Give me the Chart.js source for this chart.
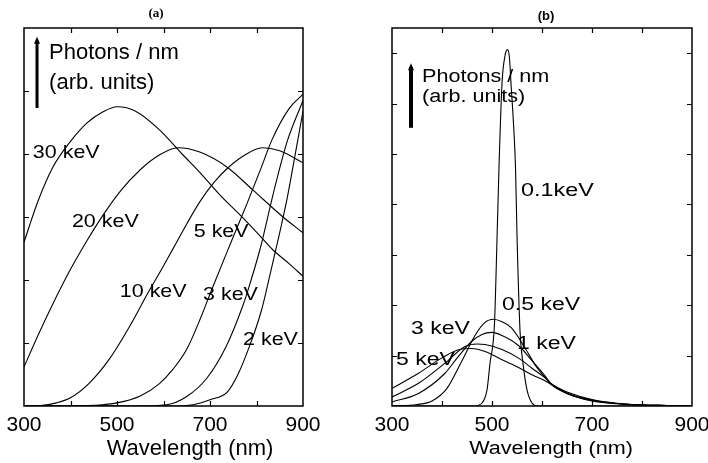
<!DOCTYPE html>
<html>
<head>
<meta charset="utf-8">
<script src="https://cdn.jsdelivr.net/npm/chart.js@4"></script>
<style>
html, body { margin: 0; padding: 0; background: #fff; }
#wrap { position: relative; width: 708px; height: 463px; }
canvas { position: absolute; top: 0; }
#chartA { left: 0; }
#chartB { left: 354px; }
</style>
</head>
<body>
<div id="wrap">
  <canvas id="chartA" width="354" height="463"></canvas>
  <canvas id="chartB" width="354" height="463"></canvas>
</div>
<script>
// ---- panel (a): wavelength (nm) and photons / nm ----
const wlA30 = [300, 330, 362, 400, 435, 470, 500, 540, 592, 640, 678, 720, 765, 800, 835, 870, 900];
const phA30 = [2.6, 3.25, 3.79, 4.2, 4.49, 4.67, 4.75, 4.68, 4.38, 4.0, 3.71, 3.36, 3.03, 2.76, 2.48, 2.26, 2.06];

const wlA20 = [300, 330, 362, 400, 435, 470, 506, 550, 590, 631, 678, 737, 792, 857, 900];
const phA20 = [0.62, 1.12, 1.62, 2.17, 2.62, 3.03, 3.4, 3.75, 3.98, 4.1, 4.03, 3.79, 3.43, 3.0, 2.75];

const wlA10 = [300, 340, 370, 400, 440, 485, 530, 567, 599, 620, 650, 678, 710, 737, 770, 812, 850, 900];
const phA10 = [0, 0.01, 0.05, 0.13, 0.36, 0.76, 1.3, 1.8, 2.21, 2.49, 2.89, 3.24, 3.56, 3.77, 3.96, 4.1, 4.05, 3.86];

const wlA5 = [300, 400, 450, 500, 550, 592, 620, 650, 680, 706, 743, 780, 810, 833, 870, 900];
const phA5 = [0, 0, 0.01, 0.05, 0.16, 0.36, 0.58, 0.9, 1.4, 1.89, 2.56, 3.22, 3.78, 4.22, 4.72, 4.95];

const wlA3 = [300, 540, 607, 650, 693, 735, 771, 780, 808, 837, 866, 900];
const phA3 = [0, 0, 0.02, 0.15, 0.44, 0.95, 1.6, 1.8, 2.5, 3.4, 4.2, 4.85];

const wlA2 = [300, 620, 663, 700, 737, 760, 786, 810, 823, 844, 866, 887, 900];
const phA2 = [0, 0, 0.02, 0.1, 0.22, 0.5, 0.97, 1.5, 1.89, 2.56, 3.3, 4.15, 4.68];

// ---- panel (b) ----
const wlB01 = [300, 465, 480, 490, 496, 505, 510, 514, 520, 526, 531, 535, 538, 543, 547, 550, 556, 562, 570, 580, 592, 900];
const phB01 = [0, 0, 0.06, 0.32, 0.85, 1.64, 3.3, 4.74, 6.4, 6.95, 7.07, 6.9, 6.4, 5.6, 4.74, 3.4, 1.5, 0.85, 0.32, 0.06, 0, 0];

const wlB05 = [300, 350, 380, 410, 440, 466, 485, 503, 520, 539, 566, 590, 606, 618, 650, 700, 750, 800, 850, 900];
const phB05 = [0, 0.03, 0.1, 0.35, 0.9, 1.4, 1.65, 1.72, 1.67, 1.55, 1.15, 0.76, 0.57, 0.43, 0.25, 0.11, 0.05, 0.02, 0.01, 0];

const wlB1 = [300, 353, 406, 430, 459, 480, 499, 520, 553, 580, 606, 618, 650, 700, 750, 800, 850, 900];
const phB1 = [0.08, 0.25, 0.65, 0.95, 1.28, 1.42, 1.46, 1.4, 1.2, 0.9, 0.6, 0.44, 0.25, 0.1, 0.045, 0.02, 0.01, 0];

const wlB3 = [300, 353, 406, 446, 470, 486, 520, 553, 580, 606, 618, 650, 700, 750, 800, 850, 900];
const phB3 = [0.18, 0.45, 0.85, 1.18, 1.23, 1.22, 1.12, 0.95, 0.75, 0.56, 0.45, 0.26, 0.12, 0.05, 0.02, 0.01, 0];

const wlB5 = [300, 353, 399, 439, 460, 486, 520, 552, 580, 606, 618, 650, 700, 750, 800, 850, 900];
const phB5 = [0.35, 0.65, 0.95, 1.13, 1.14, 1.08, 0.92, 0.77, 0.62, 0.5, 0.43, 0.28, 0.13, 0.055, 0.02, 0.01, 0];

// ticks
const xTicks = [400, 500, 600, 700, 800];
const xLabels = [300, 500, 700, 900];
const yTicksA = [1, 2, 3, 4, 5];
const yTicksB = [1, 2, 3, 4, 5, 6, 7];

const SANS = '"Liberation Sans", Arial, sans-serif';

function pts(xs, ys) {
    return xs.map((x, i) => ({ x: x, y: ys[i] }));
}

function curve(xs, ys) {
    return {
        data: pts(xs, ys),
        borderColor: '#000',
        borderWidth: 1.1,
        pointRadius: 0,
        fill: false,
        cubicInterpolationMode: 'monotone'
    };
}

// frame, inward ticks, arrow and text labels
function makeDeco(cfg) {
    return {
        id: 'deco',
        afterDraw(chart) {
            const { ctx, chartArea: ca, scales: { x, y } } = chart;
            ctx.save();
            ctx.strokeStyle = '#000';
            ctx.lineWidth = 1.2;
            ctx.beginPath();
            xTicks.forEach(v => {
                const px = Math.round(x.getPixelForValue(v)) + 0.5;
                ctx.moveTo(px, ca.bottom); ctx.lineTo(px, ca.bottom - cfg.tick);
                ctx.moveTo(px, ca.top); ctx.lineTo(px, ca.top + cfg.tick);
            });
            cfg.yTicks.forEach(v => {
                const py = Math.round(y.getPixelForValue(v)) + 0.5;
                ctx.moveTo(ca.left, py); ctx.lineTo(ca.left + cfg.tick, py);
                ctx.moveTo(ca.right, py); ctx.lineTo(ca.right - cfg.tick, py);
            });
            ctx.stroke();
            ctx.lineWidth = 1.5;
            ctx.strokeRect(ca.left, ca.top, ca.right - ca.left, ca.bottom - ca.top);

            // the "Photons / nm" arrow
            const ax = x.getPixelForValue(cfg.arrow.x);
            const ay0 = y.getPixelForValue(cfg.arrow.y0);
            const ay1 = y.getPixelForValue(cfg.arrow.y1);
            ctx.lineWidth = cfg.arrow.w;
            ctx.beginPath();
            ctx.moveTo(ax, ay0); ctx.lineTo(ax, ay1 + 4);
            ctx.stroke();
            ctx.fillStyle = '#000';
            ctx.beginPath();
            ctx.moveTo(ax - 3, ay1 + 7); ctx.lineTo(ax, ay1); ctx.lineTo(ax + 3, ay1 + 7);
            ctx.closePath();
            ctx.fill();

            cfg.texts.forEach(t => {
                const px = x.getPixelForValue(t.x);
                const py = y.getPixelForValue(t.y);
                ctx.save();
                ctx.translate(px, py);
                ctx.scale(t.sx || 1, 1);
                ctx.font = t.font;
                ctx.textAlign = t.align || 'left';
                ctx.textBaseline = 'middle';
                ctx.fillStyle = '#000';
                ctx.fillText(t.text, 0, 0);
                ctx.restore();
            });
            ctx.restore();
        }
    };
}

function makeChart(id, datasets, yMax, pad, tickFont, deco) {
    return new Chart(document.getElementById(id), {
        type: 'line',
        data: { datasets: datasets },
        options: {
            responsive: false,
            animation: false,
            layout: { padding: pad },
            plugins: { legend: { display: false }, tooltip: { enabled: false } },
            scales: {
                x: {
                    type: 'linear',
                    min: 300,
                    max: 900,
                    grid: { display: false, drawTicks: false },
                    border: { display: false },
                    ticks: {
                        stepSize: 100,
                        autoSkip: false,
                        maxRotation: 0,
                        padding: 7,
                        color: '#000',
                        font: { family: SANS, size: tickFont },
                        callback: v => xLabels.includes(v) ? String(v) : ''
                    },
                    afterFit: s => { s.height = 57; s.paddingLeft = 0; s.paddingRight = 0; }
                },
                y: { display: false, min: 0, max: yMax }
            }
        },
        plugins: [deco]
    });
}

const labA = '19px ' + SANS;
makeChart('chartA',
    [curve(wlA30, phA30), curve(wlA20, phA20), curve(wlA10, phA10),
     curve(wlA5, phA5), curve(wlA3, phA3), curve(wlA2, phA2)],
    6, { left: 24, right: 51, top: 28, bottom: 0 }, 21,
    makeDeco({
        tick: 5,
        yTicks: yTicksA,
        arrow: { x: 328, y0: 4.73, y1: 5.86, w: 3 },
        texts: [
            { text: '(a)', x: 584, y: 6.22, font: 'bold 13px "Liberation Serif", serif', align: 'center' },
            { text: 'Photons / nm', x: 354, y: 5.6, font: '22px ' + SANS },
            { text: '(arb. units)', x: 354, y: 5.13, font: '22px ' + SANS },
            { text: '30 keV', x: 319, y: 4.02, font: labA, sx: 1.13 },
            { text: '20 keV', x: 403, y: 2.92, font: labA, sx: 1.13 },
            { text: '10 keV', x: 506, y: 1.81, font: labA, sx: 1.13 },
            { text: '5 keV', x: 665, y: 2.76, font: labA, sx: 1.13 },
            { text: '3 keV', x: 685, y: 1.76, font: labA, sx: 1.13 },
            { text: '2 keV', x: 771, y: 1.05, font: labA, sx: 1.13 },
            { text: 'Wavelength (nm)', x: 657, y: -0.68, font: '22px ' + SANS, align: 'center' }
        ]
    }));

const labB = '18px ' + SANS;
makeChart('chartB',
    [curve(wlB01, phB01), curve(wlB05, phB05), curve(wlB1, phB1),
     curve(wlB3, phB3), curve(wlB5, phB5)],
    7.5, { left: 38, right: 16, top: 28, bottom: 0 }, 21,
    makeDeco({
        tick: 5,
        yTicks: yTicksB,
        arrow: { x: 338, y0: 5.52, y1: 6.8, w: 4 },
        texts: [
            { text: '(b)', x: 608, y: 7.72, font: 'bold 13px ' + SANS, align: 'center' },
            { text: 'Photons / nm', x: 360, y: 6.53, font: labB, sx: 1.2 },
            { text: '(arb. units)', x: 360, y: 6.13, font: labB, sx: 1.2 },
            { text: '0.1keV', x: 558, y: 4.27, font: labB, sx: 1.3 },
            { text: '0.5 keV', x: 520, y: 2.0, font: labB, sx: 1.28 },
            { text: '3 keV', x: 338, y: 1.53, font: labB, sx: 1.28 },
            { text: '1 keV', x: 550, y: 1.23, font: labB, sx: 1.28 },
            { text: '5 keV', x: 308, y: 0.91, font: labB, sx: 1.28 },
            { text: 'Wavelength (nm)', x: 618, y: -0.85, font: labB, sx: 1.2, align: 'center' }
        ]
    }));
</script>
</body>
</html>
